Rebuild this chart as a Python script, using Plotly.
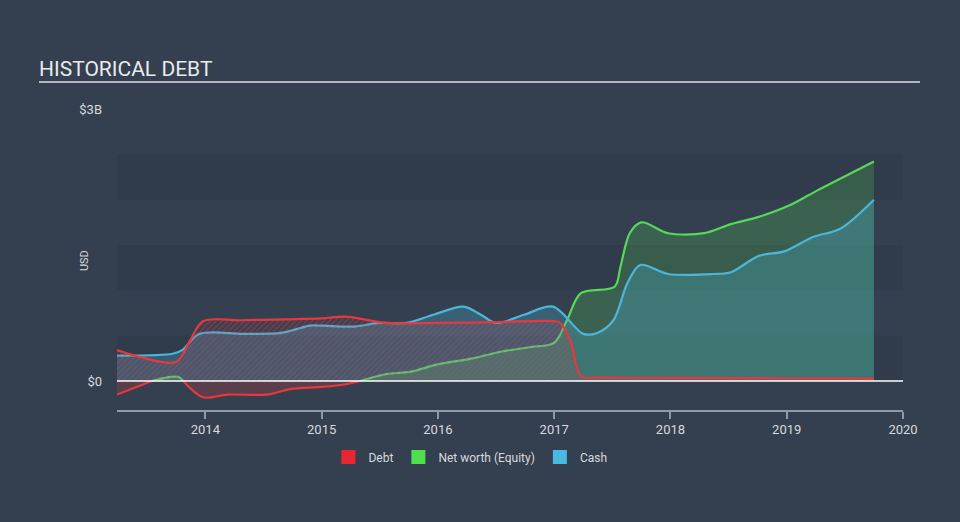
import numpy as np
import plotly.graph_objects as go

# ── data (USD billions, decimal years) ───────────────────────────────────────
debt_x = [2013.24, 2013.45, 2013.75, 2013.87, 2013.98, 2014.3, 2014.7, 2015.0, 2015.2,
          2015.56, 2016.0, 2016.5, 2017.0, 2017.05, 2017.14, 2017.23, 2017.4, 2018.0,
          2019.0, 2019.75]
debt_y = [0.34, 0.26, 0.21, 0.45, 0.66, 0.67, 0.68, 0.69, 0.71,
          0.64, 0.64, 0.65, 0.66, 0.64, 0.45, 0.055, 0.04, 0.035,
          0.03, 0.025]

cash_x = [2013.24, 2013.72, 2013.8, 2013.95, 2014.33, 2014.65, 2014.9, 2015.0, 2015.27,
          2015.5, 2015.73, 2015.96, 2016.22, 2016.37, 2016.5, 2016.74, 2016.99, 2017.25,
          2017.37, 2017.51, 2017.63, 2017.74, 2017.98, 2018.37, 2018.52, 2018.76,
          2018.98, 2019.23, 2019.46, 2019.75]
cash_y = [0.28, 0.30, 0.34, 0.52, 0.52, 0.53, 0.61, 0.61, 0.60,
          0.64, 0.64, 0.73, 0.82, 0.73, 0.64, 0.73, 0.82, 0.52,
          0.53, 0.67, 1.08, 1.28, 1.18, 1.18, 1.20, 1.38,
          1.43, 1.59, 1.68, 2.00]

equity_x = [2013.24, 2013.38, 2013.54, 2013.70, 2013.77, 2013.81, 2013.98, 2014.19,
            2014.53, 2014.73, 2015.0, 2015.22, 2015.33, 2015.56, 2015.76, 2015.99,
            2016.30, 2016.53, 2016.8, 2017.0, 2017.11, 2017.23, 2017.52, 2017.57,
            2017.65, 2017.75, 2017.98, 2018.29, 2018.52, 2018.76, 2019.03, 2019.26,
            2019.49, 2019.75]
equity_y = [-0.15, -0.08, 0.0, 0.045, 0.045, 0.0, -0.18, -0.15,
            -0.15, -0.09, -0.066, -0.033, 0.0, 0.077, 0.10, 0.18,
            0.25, 0.32, 0.375, 0.42, 0.67, 0.97, 1.04, 1.26,
            1.63, 1.75, 1.63, 1.63, 1.73, 1.81, 1.94, 2.10,
            2.25, 2.42]

year_ticks = [2014, 2015, 2016, 2017, 2018, 2019, 2020]
band_edges = [(0.0, 0.5), (1.0, 1.5), (2.0, 2.5)]

# ── colours ──────────────────────────────────────────────────────────────────
BG = "#344050"
RED = "#e8383d"
GREEN = "#58d858"
BLUE = "#4cb5d9"
TXT = "#d6d9dd"

X0, X1 = 2013.24, 2020.0
SPL = dict(width=2.2, shape="spline", smoothing=0.9)

eq = np.array(equity_y)
eq_pos = [v if v >= 0 else None for v in eq]
eq_neg = [v if v <= 0 else None for v in eq]

fig = go.Figure()

fig.add_trace(go.Scatter(
    x=equity_x, y=eq_pos, mode="lines", line=dict(color=GREEN, **SPL),
    fill="tozeroy", fillcolor="rgba(88,216,88,0.22)", showlegend=False, hoverinfo="skip"))
fig.add_trace(go.Scatter(
    x=cash_x, y=cash_y, mode="lines", line=dict(color=BLUE, **SPL),
    fill="tozeroy", fillcolor="rgba(76,181,217,0.28)", showlegend=False, hoverinfo="skip"))
fig.add_trace(go.Scatter(
    x=debt_x, y=debt_y, mode="lines", line=dict(color=RED, **SPL),
    fill="tozeroy", fillcolor="rgba(0,0,0,0)",
    fillpattern=dict(shape="/", fgcolor="rgba(225,60,72,0.66)", bgcolor="rgba(0,0,0,0)",
                     size=4, solidity=0.5),
    showlegend=False, hoverinfo="skip"))
fig.add_trace(go.Scatter(
    x=equity_x, y=eq_neg, mode="lines", line=dict(color=RED, **SPL),
    fill="tozeroy", fillcolor="rgba(232,56,61,0.22)", showlegend=False, hoverinfo="skip"))

# legend squares
for name, col in [("Debt", "#e8282e"), ("Net worth (Equity)", "#4fe04f"), ("Cash", "#4bb8e0")]:
    fig.add_trace(go.Scatter(x=[None], y=[None], mode="markers", name=name,
                             marker=dict(symbol="square", size=14, color=col)))

shapes = []
for lo, hi in band_edges:
    shapes.append(dict(type="rect", xref="x", yref="y", x0=X0, x1=X1, y0=lo, y1=hi,
                       fillcolor="rgba(20,28,40,0.10)", line_width=0, layer="below"))
shapes.append(dict(type="line", xref="x", yref="y", x0=X0, x1=X1, y0=0, y1=0,
                   line=dict(color="#ffffff", width=1.5), layer="above"))
# title underline
shapes.append(dict(type="line", xref="paper", yref="paper", x0=-0.0992, x1=1.0216,
                   y0=1.0897, y1=1.0897, line=dict(color="#b3b8be", width=2)))

fig.update_layout(
    width=960, height=522,
    paper_bgcolor=BG, plot_bgcolor=BG,
    margin=dict(l=117, r=57, t=109, b=112, autoexpand=False),
    font=dict(family="Roboto, sans-serif", color=TXT, size=12),
    title=dict(text="HISTORICAL DEBT", x=39 / 960, xanchor="left", xref="container",
               y=1 - 69 / 522, yanchor="middle", yref="container",
               font=dict(size=21, color="#e8eaec")),
    shapes=shapes,
    annotations=[dict(text="USD", xref="paper", yref="paper", x=-0.042, y=0.498,
                      xanchor="center", yanchor="middle", textangle=-90,
                      showarrow=False, font=dict(size=11, color=TXT))],
    showlegend=True,
    legend=dict(orientation="h", xref="container", yref="container", x=0.49, xanchor="center",
                y=1 - 457 / 522, yanchor="middle", font=dict(size=12, color=TXT),
                bgcolor="rgba(0,0,0,0)", itemwidth=30),
    xaxis=dict(range=[X0, X1], tickvals=year_ticks, ticktext=[str(t) for t in year_ticks],
               showgrid=False, zeroline=False, showline=True, linecolor="#8f9aa6", linewidth=1.5,
               ticks="outside", ticklen=7, tickcolor="#8f9aa6", tickwidth=1.5,
               tickfont=dict(size=13, color=TXT)),
    yaxis=dict(range=[-0.32, 3.0], tickvals=[0, 3], ticktext=["$0", "$3B"],
               showgrid=False, zeroline=False, showline=False, ticks="",
               ticklabelstandoff=14, tickfont=dict(size=13, color=TXT)),
)

fig.write_html("out.html", config={"displayModeBar": False},
               post_script="document.body.style.margin='0';")
